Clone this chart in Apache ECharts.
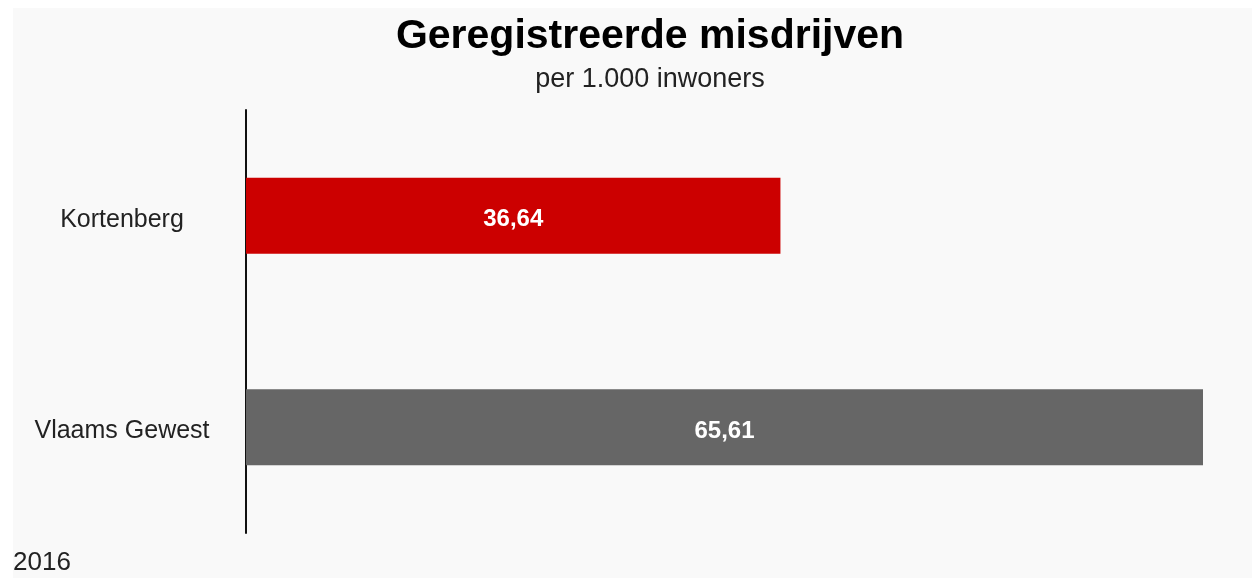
<!DOCTYPE html>
<html>
<head>
<meta charset="utf-8">
<script src="https://cdn.jsdelivr.net/npm/echarts@6/dist/echarts.min.js"></script>
<style>
  html, body { margin: 0; padding: 0; background: #ffffff; }
  #chart { position: absolute; left: 13px; top: 8px; width: 1239px; height: 570px; }
</style>
</head>
<body>
<div id="chart"></div>
<script>
// data
const regions = ['Kortenberg', 'Vlaams Gewest']
const misdrijven = [36.64, 65.61]
const barColors = ['#cc0000', '#666666']
const year = '2016'

const chart = echarts.init(document.getElementById('chart'))

chart.setOption({
  backgroundColor: '#f9f9f9',
  animation: false,
  title: {
    text: 'Geregistreerde misdrijven',
    subtext: 'per 1.000 inwoners',
    left: 632,
    textAlign: 'center',
    top: 3,
    itemGap: 9,
    textStyle: {
      fontFamily: 'Liberation Sans',
      fontSize: 41,
      fontWeight: 'bold',
      color: '#000'
    },
    subtextStyle: {
      fontFamily: 'Liberation Sans',
      fontSize: 27,
      color: '#222'
    }
  },
  grid: {
    left: 233,
    right: 49,
    top: 102,
    bottom: 45,
    containLabel: false
  },
  xAxis: {
    type: 'value',
    min: 0,
    max: 'dataMax',
    show: false
  },
  yAxis: {
    type: 'category',
    data: regions,
    inverse: true,
    axisLine: { show: true, lineStyle: { color: '#111', width: 2 } },
    axisTick: { show: false },
    axisLabel: {
      margin: 124,
      align: 'center',
      formatter: '{a|{value}}',
      rich: {
        a: {
          padding: [8, 0, 0, 0],
          fontFamily: 'Liberation Sans',
          fontSize: 25,
          color: '#222'
        }
      }
    }
  },
  graphic: [{
    type: 'text',
    left: 0,
    bottom: 2,
    style: {
      text: year,
      fontFamily: 'Liberation Sans',
      fontSize: 26,
      fill: '#222'
    }
  }],
  series: [{
    type: 'bar',
    barWidth: 76,
    data: misdrijven.map((v, i) => ({
      value: v,
      itemStyle: { color: barColors[i] }
    })),
    label: {
      show: true,
      position: 'inside',
      offset: [0, 4],
      color: '#fff',
      fontFamily: 'Liberation Sans',
      fontWeight: 'bold',
      fontSize: 24,
      formatter: p => p.value.toFixed(2).replace('.', ',')
    }
  }]
})
</script>
</body>
</html>
